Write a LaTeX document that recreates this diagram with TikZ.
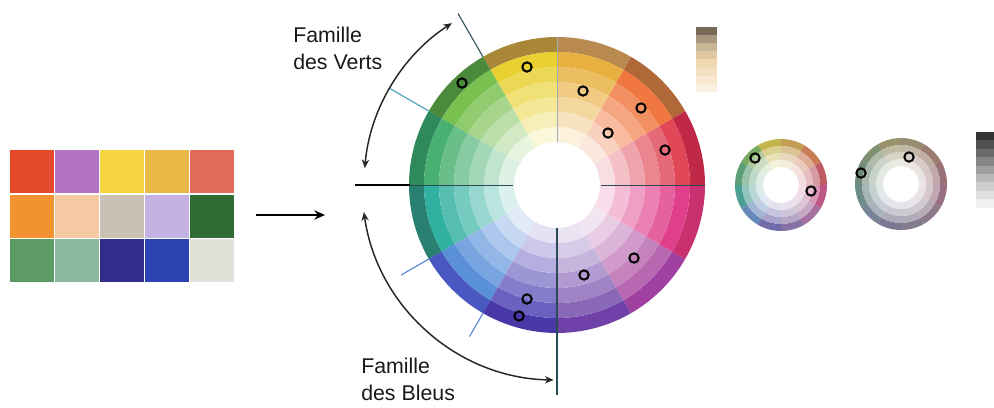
\documentclass[tikz,border=0pt]{standalone}
\usepackage{fontspec}
\setmainfont{Liberation Sans}
\usetikzlibrary{arrows.meta}
% swatches
\definecolor{sw1}{HTML}{E34A2C}\definecolor{sw2}{HTML}{B474C4}\definecolor{sw3}{HTML}{F6D444}\definecolor{sw4}{HTML}{E9B847}\definecolor{sw5}{HTML}{E26A5A}
\definecolor{sw6}{HTML}{F39231}\definecolor{sw7}{HTML}{F6C9A2}\definecolor{sw8}{HTML}{C9C1B3}\definecolor{sw9}{HTML}{C3B2E2}\definecolor{sw10}{HTML}{2F6B33}
\definecolor{sw11}{HTML}{5C9B63}\definecolor{sw12}{HTML}{8CBAA1}\definecolor{sw13}{HTML}{322C8E}\definecolor{sw14}{HTML}{2B43B1}\definecolor{sw15}{HTML}{E2E1D9}
% wheel sectors: outer shade o, base b
\definecolor{o0}{HTML}{C02848}\definecolor{b0}{HTML}{E04858}
\definecolor{o1}{HTML}{B06838}\definecolor{b1}{HTML}{F07840}
\definecolor{o2}{HTML}{B88A50}\definecolor{b2}{HTML}{E8B040}
\definecolor{o3}{HTML}{A88838}\definecolor{b3}{HTML}{E8D030}
\definecolor{o4}{HTML}{4A8A3A}\definecolor{b4}{HTML}{78C050}
\definecolor{o5}{HTML}{2E8A5A}\definecolor{b5}{HTML}{48B070}
\definecolor{o6}{HTML}{2A8070}\definecolor{b6}{HTML}{30B0A0}
\definecolor{o7}{HTML}{4858C0}\definecolor{b7}{HTML}{5A90D8}
\definecolor{o8}{HTML}{4838A8}\definecolor{b8}{HTML}{6A60C0}
\definecolor{o9}{HTML}{6E40A8}\definecolor{b9}{HTML}{8A68B8}
\definecolor{o10}{HTML}{A040A0}\definecolor{b10}{HTML}{B868B0}
\definecolor{o11}{HTML}{C83070}\definecolor{b11}{HTML}{E0408A}
\definecolor{tealline}{HTML}{40A0B8}
\definecolor{blueline}{HTML}{5080D8}
\definecolor{axisline}{HTML}{2A4A55}
\tikzset{
  mk/.style={circle, draw=black, line width=1.5pt, minimum size=7pt, inner sep=0pt},
  famarrow/.style={draw=black!85, line width=1.1pt, {Stealth[length=6.5pt,width=5.5pt]}-{Stealth[length=6.5pt,width=5.5pt]}},
  mainarrow/.style={draw=black, line width=1.6pt, -{Stealth[length=8pt,width=7pt]}},
  lbl/.style={font=\fontsize{16}{20}\selectfont, align=left, inner sep=0pt, text=black!90}
}
\begin{document}
\begin{tikzpicture}[x=0.75pt,y=-0.75pt]
\useasboundingbox (0,0) rectangle (994,407);
% swatch grid
\foreach \n in {1,...,15}{
  \pgfmathtruncatemacro\c{mod(\n-1,5)}
  \pgfmathtruncatemacro\r{div(\n-1,5)}
  \fill[sw\n] ({10+45*\c},{150+44.5*\r}) rectangle ++(43.5,43);
}
% main arrow
\coordinate (arrA) at (256,215);
\coordinate (arrB) at (325,215);
\draw[mainarrow] (arrA) -- (arrB);
% main wheel
\begin{scope}[shift={(557,185)}, yscale=-1]
  \foreach \k [evaluate=\k as \a using int(30*\k)] in {0,...,11}{
    \foreach \j/\col in {0/o\k, 1/b\k, 2/b\k!82!white, 3/b\k!66!white, 4/b\k!50!white, 5/b\k!34!white, 6/b\k!18!white}{
      \pgfmathsetmacro\ro{148-15*\j}
      \pgfmathsetmacro\ri{133-15*\j}
      \fill[\col] (\a:\ro) arc[start angle=\a, end angle=\a+30, radius=\ro] -- (\a+30:\ri) arc[start angle=\a+30, end angle=\a, radius=\ri] -- cycle;
    }
  }
  % axis lines
  \draw[black, line width=1.5pt] (180:202) -- (180:147);
  \draw[axisline, line width=0.6pt] (180:147) -- (180:44);
  \draw[axisline, line width=0.6pt] (0:44) -- (0:148);
  \draw[axisline!45, line width=0.5pt] (90:148) -- (90:43);
  \draw[axisline, line width=0.8pt] (270:43) -- (270:210);
  \draw[axisline, line width=0.8pt] (120:148) -- (120:198);
  \draw[tealline, line width=0.8pt] (150:148) -- (150:194);
  \draw[blueline, line width=0.8pt] (210:148) -- (210:180);
  \draw[blueline, line width=0.8pt] (240:148) -- (240:175);
  % family arrows
  \coordinate (vA) at (175:193);
  \coordinate (bA) at (188:195);
  \draw[famarrow] (vA) arc[start angle=175, end angle=123, radius=193];
  \draw[famarrow] (bA) arc[start angle=188, end angle=269, radius=195];
\end{scope}
% markers main wheel
\node[mk] (m1) at (462,83) {};
\node[mk] (m2) at (527,67) {};
\node[mk] (m3) at (583,91) {};
\node[mk] (m4) at (641,108) {};
\node[mk] (m5) at (608,133) {};
\node[mk] (m6) at (665,150) {};
\node[mk] (m7) at (634,258) {};
\node[mk] (m8) at (584,275) {};
\node[mk] (m9) at (527,299) {};
\node[mk] (m10) at (519,316) {};
% labels
\node[lbl, anchor=north west] (verts) at (293,27) {Famille\\des Verts};
\node[lbl, anchor=north west] (bleus) at (361,358) {Famille\\des Bleus};
% small wheel 1
\begin{scope}[shift={(781,185)}, yscale=-1]
  \foreach \k [evaluate=\k as \a using int(30*\k)] in {0,...,11}{
    \foreach \j/\col in {0/b\k!65!gray, 1/b\k!65!gray!62!white, 2/b\k!65!gray!40!white, 3/b\k!65!gray!20!white}{
      \pgfmathsetmacro\ro{46-7*\j}
      \pgfmathsetmacro\ri{39-7*\j}
      \fill[\col] (\a:\ro) arc[start angle=\a, end angle=\a+30, radius=\ro] -- (\a+30:\ri) arc[start angle=\a+30, end angle=\a, radius=\ri] -- cycle;
    }
  }
\end{scope}
% small wheel 2
\begin{scope}[shift={(901,184)}, yscale=-1]
  \foreach \k [evaluate=\k as \a using int(30*\k)] in {0,...,11}{
    \foreach \j/\col in {0/b\k!25!gray, 1/b\k!25!gray!62!white, 2/b\k!25!gray!40!white, 3/b\k!25!gray!20!white}{
      \pgfmathsetmacro\ro{46-7*\j}
      \pgfmathsetmacro\ri{39-7*\j}
      \fill[\col] (\a:\ro) arc[start angle=\a, end angle=\a+30, radius=\ro] -- (\a+30:\ri) arc[start angle=\a+30, end angle=\a, radius=\ri] -- cycle;
    }
  }
\end{scope}
\node[mk] (w1a) at (755,158) {};
\node[mk] (w1b) at (811,191) {};
\node[mk] (w2a) at (909,157) {};
\node[mk] (w2b) at (861,173) {};
% beige bar
\foreach \i/\col in {0/786858, 1/A89880, 2/C8B898, 3/E0C8A0, 4/F0D8B0, 5/F4E0C0, 6/F8E8D0, 7/FAF0E2}{
  \definecolor{tmpc}{HTML}{\col}
  \fill[tmpc] (696,{27+8.1*\i}) rectangle (717,{27+8.1*(\i+1)});
}
% gray bar
\foreach \i/\g in {0/80, 1/68, 2/58, 3/48, 4/38, 5/28, 6/19, 7/12, 8/6}{
  \fill[black!\g!white] (976,{132+8.4*\i}) rectangle (994,{132+8.4*(\i+1)});
}
\end{tikzpicture}
\end{document}
